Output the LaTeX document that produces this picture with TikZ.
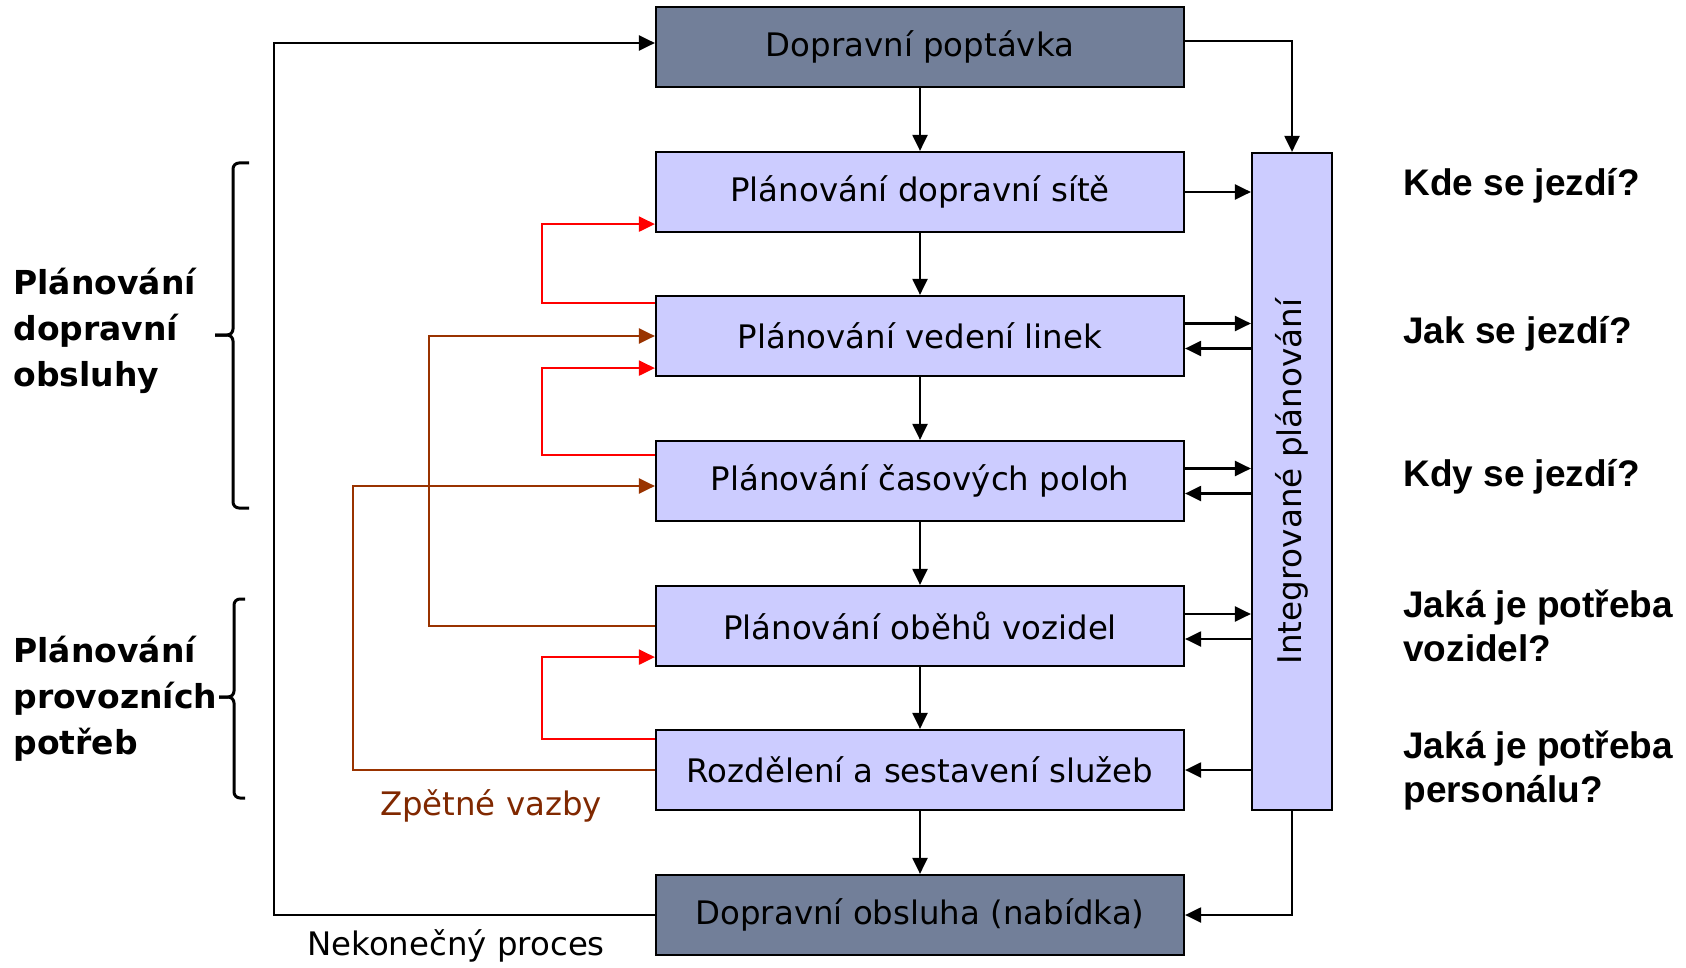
\documentclass[tikz,border=0pt]{standalone}
\usepackage{fontspec}
\setmainfont{DejaVu Sans}
\newfontfamily\qfont{Liberation Sans}
\usetikzlibrary{arrows.meta, positioning, calc}
\definecolor{krajni}{RGB}{114,127,153}
\definecolor{vnitrni}{RGB}{204,204,255}
\definecolor{vazba}{RGB}{153,51,0}
\definecolor{vazbatext}{RGB}{128,40,0}

\begin{document}
\begin{tikzpicture}[
    x=0.5pt, y=-0.5pt,
    krok/.style={draw, line width=1.1pt, fill=vnitrni, minimum width=264pt, minimum height=40pt, align=center, font=\fontsize{16.2}{19}\selectfont},
    kraj/.style={krok, fill=krajni},
    arr/.style={-{Triangle[length=8pt,width=7.5pt]}, line width=1.1pt},
    zp/.style={-{Triangle[length=8pt,width=7.5pt]}, line width=1.1pt, red},
    fb/.style={-{Triangle[length=8pt,width=7.5pt]}, line width=1.1pt, vazba},
    otazka/.style={anchor=west, align=left, inner sep=0pt, font=\qfont\bfseries\fontsize{18.5}{22}\selectfont},
    skupina/.style={anchor=west, align=left, inner sep=0pt, font=\bfseries\fontsize{16.5}{23}\selectfont},
    brk/.style={line width=1.5pt, rounded corners=3pt}
]
\useasboundingbox (0,0) rectangle (1686,968);

% hlavni bloky
\node[kraj] (poptavka) at (920,47) {Dopravní poptávka};
\node[krok] (sit) at (920,192) {Plánování dopravní sítě};
\node[krok] (linky) at (920,336) {Plánování vedení linek};
\node[krok] (polohy) at (920,481) {Plánování časových poloh};
\node[krok] (obehy) at (920,626) {Plánování oběhů vozidel};
\node[krok] (sluzby) at (920,770) {Rozdělení a sestavení služeb};
\node[kraj] (obsluha) at (920,915) {Dopravní obsluha (nabídka)};

\node[krok, minimum width=40pt, minimum height=328.5pt] (integ) at (1292,481.5) {};
\node[rotate=90, font=\fontsize{16.3}{19}\selectfont] (integtxt) at (integ) {Integrované plánování};

\draw[arr] (poptavka) -- (sit);
\draw[arr] (sit) -- (linky);
\draw[arr] (linky) -- (polohy);
\draw[arr] (polohy) -- (obehy);
\draw[arr] (obehy) -- (sluzby);
\draw[arr] (sluzby) -- (obsluha);

% integrovane planovani
\draw[arr] ([yshift=3pt]poptavka.east) -| (integ.north);
\draw[arr] (sit.east) -- (sit.east -| integ.west);
\draw[arr] ([yshift=6.25pt]linky.east) -- ([yshift=6.25pt]linky.east -| integ.west);
\draw[arr] ([yshift=-6.25pt]linky.east -| integ.west) -- ([yshift=-6.25pt]linky.east);
\draw[arr] ([yshift=6.25pt]polohy.east) -- ([yshift=6.25pt]polohy.east -| integ.west);
\draw[arr] ([yshift=-6.25pt]polohy.east -| integ.west) -- ([yshift=-6.25pt]polohy.east);
\draw[arr] ([yshift=6pt]obehy.east) -- ([yshift=6pt]obehy.east -| integ.west);
\draw[arr] ([yshift=-6.5pt]obehy.east -| integ.west) -- ([yshift=-6.5pt]obehy.east);
\draw[arr] (sluzby.east -| integ.west) -- (sluzby.east);
\draw[arr] (integ.south) |- (obsluha.east);

% nekonecny proces
\draw[arr] (obsluha.west) -- ++(-381,0) |- ([yshift=2pt]poptavka.west);
\node (nekonecny) at (456,946) {\fontsize{16.2}{19}\selectfont Nekonečný proces};

% zpetne vazby
\draw[zp] ([yshift=-4pt]linky.north west) -- ++(-113,0) |- ([yshift=4.5pt]sit.south west);
\draw[zp] ([yshift=-7.5pt]polohy.north west) -- ++(-113,0) |- ([yshift=4.5pt]linky.south west);
\draw[zp] ([yshift=-5pt]sluzby.north west) -- ++(-113,0) |- ([yshift=5pt]obehy.south west);
\draw[fb] (obehy.west) -- ++(-226,0) |- (linky.west);
\draw[fb] (sluzby.west) -- ++(-302,0) |- ([yshift=-2.5pt]polohy.west);
\node[text=vazbatext] (vazby) at (491,806) {\fontsize{16.2}{19}\selectfont Zpětné vazby};

% skupiny vlevo
\node[skupina] (obsluhy) at (13,331) {Plánování\\dopravní\\obsluhy};
\node[skupina] (potreby) at (13,699) {Plánování\\provozních\\potřeb};
\draw[brk] (249,163) -- (233,163) -- (233,335) -- (215,335);
\draw[brk] (215,335) -- (233,335) -- (233,508) -- (249,508);
\draw[brk] (245,599) -- (234,599) -- (234,697) -- (219,697);
\draw[brk] (219,697) -- (234,697) -- (234,798) -- (245,798);

% otazky vpravo
\node[otazka] (kde) at (1403,186) {Kde se jezdí?};
\node[otazka] (jak) at (1403,334) {Jak se jezdí?};
\node[otazka] (kdy) at (1403,477) {Kdy se jezdí?};
\node[otazka] (vozidla) at (1403,626) {Jaká je potřeba\\vozidel?};
\node[otazka] (personal) at (1403,771) {Jaká je potřeba\\personálu?};
\end{tikzpicture}
\end{document}
